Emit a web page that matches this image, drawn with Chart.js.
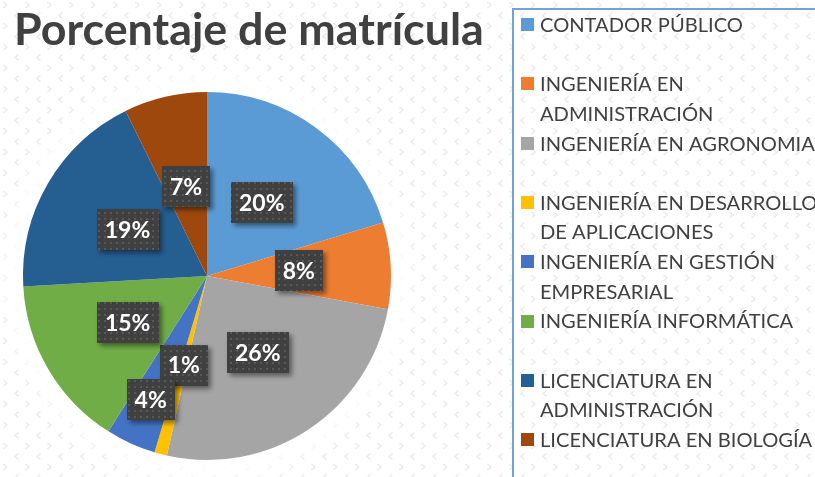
<!DOCTYPE html>
<html><head><meta charset="utf-8">
<script src="https://cdn.jsdelivr.net/npm/chart.js@4/dist/chart.umd.min.js"></script>
<style>html,body{margin:0;padding:0;background:#fff;overflow:hidden}canvas{display:block}</style>
</head><body>
<canvas id="c" width="815" height="477"></canvas>
<script>
const chartTitle = 'Porcentaje de matrícula';
const categories = [
  ['CONTADOR PÚBLICO'],
  ['INGENIERÍA EN', 'ADMINISTRACIÓN'],
  ['INGENIERÍA EN AGRONOMIA'],
  ['INGENIERÍA EN DESARROLLO', 'DE APLICACIONES'],
  ['INGENIERÍA EN GESTIÓN', 'EMPRESARIAL'],
  ['INGENIERÍA INFORMÁTICA'],
  ['LICENCIATURA EN', 'ADMINISTRACIÓN'],
  ['LICENCIATURA EN BIOLOGÍA']
];
const percentages = [20.3, 7.6, 25.6, 1.1, 4.4, 15.1, 18.6, 7.3];
const sliceColors = ['#5B9BD5', '#ED7D31', '#A5A5A5', '#FFC000', '#4472C4', '#70AD47', '#255E91', '#9E480E'];

const TEXT = '#404040';

function makeTile(w, h, draw) {
  const c = document.createElement('canvas'); c.width = w; c.height = h;
  draw(c.getContext('2d')); return c;
}
function chevron(g, cx, cy, dir) {
  g.beginPath();
  g.moveTo(cx - 2 * dir, cy - 3);
  g.lineTo(cx + 1.5 * dir, cy);
  g.lineTo(cx - 2 * dir, cy + 3);
  g.stroke();
}
const bgTile = makeTile(22, 21, g => {
  g.fillStyle = '#fff'; g.fillRect(0, 0, 22, 21);
  g.strokeStyle = '#ebebeb'; g.lineWidth = 1.6;
  chevron(g, 5.5, 5, 1);
  chevron(g, 16.5, 15.5, -1);
});
const boxTile = makeTile(6, 6, g => {
  g.fillStyle = '#404040'; g.fillRect(0, 0, 6, 6);
  g.fillStyle = '#585858'; g.fillRect(2, 2, 2, 2);
});

function fitSize(ctx, text, weight, family, target) {
  ctx.font = `${weight} 100px ${family}`;
  return 100 * target / ctx.measureText(text).width;
}

const decorPlugin = {
  id: 'decor',
  beforeDraw(chart) {
    const ctx = chart.ctx;
    ctx.save();
    ctx.fillStyle = ctx.createPattern(bgTile, 'repeat');
    ctx.fillRect(0, 0, chart.width, chart.height);
    const arc = chart.getDatasetMeta(0).data[0];
    if (arc) {
      const r = arc.outerRadius, x = arc.x, y = arc.y;
      const grad = ctx.createRadialGradient(x, y, r - 2, x, y, r + 30);
      grad.addColorStop(0, 'rgba(255,255,255,1)');
      grad.addColorStop(0.5, 'rgba(255,255,255,0.7)');
      grad.addColorStop(1, 'rgba(255,255,255,0)');
      ctx.fillStyle = grad;
      ctx.beginPath(); ctx.arc(x, y, r + 30, 0, Math.PI * 2); ctx.fill();
    }
    ctx.restore();
  },
  afterDatasetsDraw(chart) {
    const ctx = chart.ctx;
    const meta = chart.getDatasetMeta(0);
    const data = chart.data.datasets[0].data;
    const total = data.reduce((a, b) => a + b, 0);
    ctx.save();
    ctx.font = 'bold 23px Lato';
    const placed = [];
    meta.data.forEach((arc, i) => {
      const txt = Math.round(data[i] / total * 100) + '%';
      const tw = ctx.measureText(txt).width;
      const bw = tw + 16, bh = 41;
      const mid = (arc.startAngle + arc.endAngle) / 2;
      const ux = Math.cos(mid), uy = Math.sin(mid);
      let d = (arc.innerRadius + arc.outerRadius) / 2;
      let cx, cy;
      const shrink = 7;
      const hits = () => placed.some(p =>
        Math.abs(p.x - cx) < (p.w + bw) / 2 - shrink && Math.abs(p.y - cy) < (p.h + bh) / 2 - shrink);
      cx = arc.x + ux * d; cy = arc.y + uy * d;
      while (hits() && d < arc.outerRadius) { d += 1; cx = arc.x + ux * d; cy = arc.y + uy * d; }
      placed.push({ x: cx, y: cy, w: bw, h: bh });
      ctx.save();
      ctx.shadowColor = 'rgba(0,0,0,0.45)';
      ctx.shadowBlur = 5; ctx.shadowOffsetX = 3; ctx.shadowOffsetY = 3;
      ctx.fillStyle = ctx.createPattern(boxTile, 'repeat');
      ctx.fillRect(Math.round(cx - bw / 2), Math.round(cy - bh / 2), Math.round(bw), bh);
      ctx.restore();
      ctx.fillStyle = '#fff';
      ctx.textAlign = 'center'; ctx.textBaseline = 'middle';
      ctx.fillText(txt, cx, cy + 1);
    });
    ctx.restore();
  },
  afterDraw(chart) {
    const ctx = chart.ctx;
    ctx.save();
    // title
    const ts = fitSize(ctx, chartTitle, 'bold', 'Lato', 470);
    ctx.font = `bold ${ts}px Lato`;
    ctx.fillStyle = TEXT;
    ctx.textAlign = 'left'; ctx.textBaseline = 'alphabetic';
    ctx.fillText(chartTitle, 14, 45);
    // legend frame
    ctx.strokeStyle = '#6FA3DC'; ctx.lineWidth = 2;
    ctx.beginPath();
    ctx.moveTo(513, chart.height + 5); ctx.lineTo(513, 9); ctx.lineTo(chart.width + 5, 9);
    ctx.stroke();
    // legend items
    const ls = fitSize(ctx, 'CONTADOR PÚBLICO', 'normal', 'Lato', 203);
    ctx.font = `${ls}px Lato`;
    ctx.textBaseline = 'middle';
    const labels = chart.data.labels;
    const colors = chart.data.datasets[0].backgroundColor;
    const first = 24.5, slot = 59.3, line = 29.6;
    labels.forEach((lab, i) => {
      const y0 = first + i * slot;
      ctx.fillStyle = colors[i];
      ctx.fillRect(521, Math.round(y0 - 6.5), 13, 13);
      ctx.fillStyle = TEXT;
      const lines = Array.isArray(lab) ? lab : [lab];
      lines.forEach((t, j) => ctx.fillText(t, 540, y0 + j * line + 1));
    });
    ctx.restore();
  }
};

function build() {
  new Chart(document.getElementById('c'), {
    type: 'pie',
    data: {
      labels: categories,
      datasets: [{
        data: percentages,
        backgroundColor: sliceColors,
        borderWidth: 0
      }]
    },
    options: {
      responsive: false,
      animation: false,
      devicePixelRatio: 1,
      layout: { padding: { top: 92, bottom: 17, left: 23, right: 424 } },
      plugins: { legend: { display: false }, tooltip: { enabled: false }, title: { display: false } }
    },
    plugins: [decorPlugin]
  });
}
if (document.fonts && document.fonts.load) {
  Promise.all([document.fonts.load('bold 20px Lato'), document.fonts.load('20px Lato')]).then(build, build);
} else build();
</script>
</body></html>
